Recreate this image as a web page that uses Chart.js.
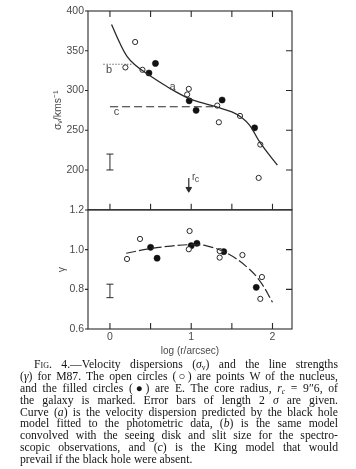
<!DOCTYPE html>
<html><head><meta charset="utf-8">
<script src="https://cdn.jsdelivr.net/npm/chart.js@4.4.1/dist/chart.umd.min.js"></script>
<style>
html,body{margin:0;padding:0;background:#fff;width:356px;height:469px;overflow:hidden}
#c1{position:absolute;left:0;top:0}
#c2{position:absolute;left:0;top:196px}
#cap{position:absolute;left:20px;top:359px;width:318px;font-family:"Liberation Serif","Times New Roman",serif;font-size:11.7px;line-height:11.9px;color:#151515}
#cap div{text-align:justify;text-align-last:justify;height:11.9px;overflow:visible}
#cap div.last{text-align:left;text-align-last:left}
#cap div.first{padding-left:14px}
.sc{font-variant:small-caps}
.sb{font-size:7.5px;line-height:0;vertical-align:-2px}
</style>
</head><body>
<canvas id="c1" width="356" height="220"></canvas>
<canvas id="c2" width="356" height="164"></canvas>
<div id="cap">
<div class="first"><span class="sc">Fig</span>. 4.—Velocity dispersions (<i>σ</i><span class="sb">v</span>) and the line strengths</div>
<div>(<i>γ</i>) for M87. The open circles (○) are points W of the nucleus,</div>
<div>and the filled circles (●) are E. The core radius, <i>r</i><span class="sb"><i>c</i></span> = 9″6, of</div>
<div>the galaxy is marked. Error bars of length 2 <i>σ</i> are given.</div>
<div>Curve (<i>a</i>) is the velocity dispersion predicted by the black hole</div>
<div>model fitted to the photometric data, (<i>b</i>) is the same model</div>
<div>convolved with the seeing disk and slit size for the spectro-</div>
<div>scopic observations, and (<i>c</i>) is the King model that would</div>
<div class="last">prevail if the black hole were absent.</div>
</div>
<script>
// ---- data ----
const xTickValues = [0, 1, 2];
const xMinorTicks = [0, 0.5, 1, 1.5, 2];
const sigmaTicks = [200, 250, 300, 350, 400];
const sigmaRightTicks = [200, 250, 300, 350];
const gammaTicks = [0.6, 0.8, 1.0, 1.2];
const gammaRightTicks = [0.8, 1.0];

const sigmaOpenX = [0.31, 0.19, 0.40, 0.97, 0.95, 1.32, 1.34, 1.60, 1.85, 1.83];
const sigmaOpenY = [361, 329, 326, 302, 295, 281, 260, 268, 232, 190];
const sigmaFilledX = [0.48, 0.56, 0.975, 1.06, 1.38, 1.78];
const sigmaFilledY = [322, 334, 287, 275, 288, 253];

const curveAX = [0.02, 0.12, 0.21, 0.31, 0.47, 0.70, 0.97, 1.15, 1.32, 1.50, 1.62, 1.72, 1.85, 2.06];
const curveAY = [383, 360, 343, 332, 320, 305, 290, 284, 279, 273, 266, 256, 234, 206];
const curveBX = [-0.08, 0.29];
const curveBY = [333, 333];
const curveCX = [0.0, 1.27];
const curveCY = [279.5, 279.5];
const sigmaErrX = [0, 0];
const sigmaErrY = [200, 220];
const rcX = [0.97, 0.97];
const rcY = [190, 176];

const gammaOpenX = [0.21, 0.37, 0.98, 0.97, 1.35, 1.35, 1.63, 1.87, 1.85];
const gammaOpenY = [0.953, 1.054, 1.094, 1.002, 0.993, 0.960, 0.973, 0.862, 0.752];
const gammaFilledX = [0.50, 0.58, 1.00, 1.07, 1.40, 1.80];
const gammaFilledY = [1.012, 0.957, 1.020, 1.032, 0.990, 0.810];
const gammaFitX = [0.20, 0.49, 0.75, 0.99, 1.19, 1.44, 1.69, 1.85, 2.00];
const gammaFitY = [0.982, 1.005, 1.018, 1.025, 1.019, 0.982, 0.911, 0.839, 0.735];
const gammaErrX = [0, 0];
const gammaErrY = [0.758, 0.826];

const XMIN = -0.27, XMAX = 2.24;
const INK = '#2a2a2a';
const LABEL = '#4a4a4a';
const SANS = '"Liberation Sans", Arial, sans-serif';

const pts = (xs, ys) => xs.map((x, i) => ({x, y: ys[i]}));

Chart.defaults.font.family = SANS;
Chart.defaults.color = LABEL;

const framePlugin = {
  id: 'frame',
  afterDatasetsDraw(chart, args, o) {
    const ctx = chart.ctx, a = chart.chartArea, xs = chart.scales.x, ys = chart.scales.y;
    ctx.save();
    ctx.strokeStyle = INK; ctx.lineWidth = 1.1;
    ctx.strokeRect(a.left, a.top, a.right - a.left, a.bottom - a.top);
    ctx.beginPath();
    (o.top || []).forEach(v => { const p = xs.getPixelForValue(v); ctx.moveTo(p, a.top); ctx.lineTo(p, a.top + 6); });
    (o.bottom || []).forEach(v => { const p = xs.getPixelForValue(v); ctx.moveTo(p, a.bottom); ctx.lineTo(p, a.bottom - 6); });
    (o.right || []).forEach(v => { const p = ys.getPixelForValue(v); ctx.moveTo(a.right, p); ctx.lineTo(a.right - 6, p); });
    (o.left || []).forEach(v => { const p = ys.getPixelForValue(v); ctx.moveTo(a.left, p); ctx.lineTo(a.left - 3, p); });
    ctx.stroke();
    (o.notes || []).forEach(n => {
      ctx.font = (n.size || 11) + 'px ' + SANS;
      ctx.fillStyle = LABEL; ctx.textAlign = 'center'; ctx.textBaseline = 'middle';
      ctx.fillText(n.text, xs.getPixelForValue(n.x) + (n.dx || 0), ys.getPixelForValue(n.y) + (n.dy || 0));
    });
    ctx.restore();
  }
};

function lineDs(xs, ys, dash, width) {
  return {data: pts(xs, ys), showLine: true, pointRadius: 0, borderColor: INK,
    borderWidth: width || 1.2, borderDash: dash || [], tension: 0.4, fill: false};
}
function openDs(xs, ys) {
  return {data: pts(xs, ys), pointRadius: 2.6, pointBackgroundColor: '#fff', pointBorderColor: INK, pointBorderWidth: 1};
}
function filledDs(xs, ys) {
  return {data: pts(xs, ys), pointRadius: 3.1, pointBackgroundColor: '#111', pointBorderColor: '#111', pointBorderWidth: 0.5};
}
function errDs(xs, ys) {
  return {data: pts(xs, ys), showLine: true, borderColor: INK, borderWidth: 1,
    pointStyle: 'line', pointRadius: 3.5, pointBorderColor: INK, pointBorderWidth: 1};
}

function yAxis(min, max, ticks, title, fmt, titlePad) {
  return {
    type: 'linear', position: 'left', min, max,
    afterFit(s) { s.width = 88; },
    afterBuildTicks(s) { s.ticks = ticks.map(v => ({value: v})); },
    grid: {display: false, drawTicks: false}, border: {display: false},
    ticks: {padding: 4, color: LABEL, font: {size: 10.5}, callback: fmt},
    title: {display: true, text: title, color: LABEL, font: {size: 10.5}, padding: {top: titlePad, bottom: 0}}
  };
}

new Chart(document.getElementById('c1'), {
  type: 'scatter',
  data: {datasets: [
    lineDs(curveAX, curveAY, [], 1.3),
    lineDs(curveBX, curveBY, [1, 2], 1.2),
    lineDs(curveCX, curveCY, [8, 4], 1.2),
    errDs(sigmaErrX, sigmaErrY),
    lineDs(rcX, rcY, [], 1.2),
    {data: [{x: rcX[1], y: rcY[1]}], pointStyle: 'triangle', rotation: 180, pointRadius: 3.2,
      pointBackgroundColor: INK, pointBorderColor: INK},
    openDs(sigmaOpenX, sigmaOpenY),
    filledDs(sigmaFilledX, sigmaFilledY)
  ]},
  options: {
    responsive: false, animation: false, events: [],
    layout: {padding: {top: 11, right: 64, bottom: 10, left: 0}},
    plugins: {legend: {display: false}, tooltip: {enabled: false},
      frame: {top: xMinorTicks, bottom: xMinorTicks, right: sigmaRightTicks, left: sigmaTicks,
        notes: [{text: 'a', x: 0.77, y: 304}, {text: 'b', x: -0.01, y: 326}, {text: 'c', x: 0.08, y: 273},
                {text: 'r', x: 1.03, y: 191, size: 10}, {text: 'c', x: 1.07, y: 188, size: 9}]}},
    scales: {
      x: {type: 'linear', min: XMIN, max: XMAX, display: false},
      y: yAxis(150, 400, sigmaTicks, 'σᵥ/kms⁻¹', v => String(v), 52)
    }
  },
  plugins: [framePlugin]
});

new Chart(document.getElementById('c2'), {
  type: 'scatter',
  data: {datasets: [
    lineDs(gammaFitX, gammaFitY, [10, 3], 1.2),
    errDs(gammaErrX, gammaErrY),
    openDs(gammaOpenX, gammaOpenY),
    filledDs(gammaFilledX, gammaFilledY)
  ]},
  options: {
    responsive: false, animation: false, events: [],
    layout: {padding: {top: 14, right: 64, bottom: 0, left: 0}},
    plugins: {legend: {display: false}, tooltip: {enabled: false},
      frame: {bottom: xMinorTicks, right: gammaRightTicks, left: gammaTicks}},
    scales: {
      x: {type: 'linear', min: XMIN, max: XMAX, position: 'bottom',
        afterFit(s) { s.height = 31; },
        afterBuildTicks(s) { s.ticks = xTickValues.map(v => ({value: v})); },
        grid: {display: false, drawTicks: false}, border: {display: false},
        ticks: {padding: 2, color: LABEL, font: {size: 10.5}, maxRotation: 0},
        title: {display: true, text: 'log (r/arcsec)', color: LABEL, font: {size: 10}, padding: {top: 0, bottom: 3}}},
      y: yAxis(0.6, 1.2, gammaTicks, 'γ', v => v.toFixed(1), 56)
    }
  },
  plugins: [framePlugin]
});
</script>
</body></html>
